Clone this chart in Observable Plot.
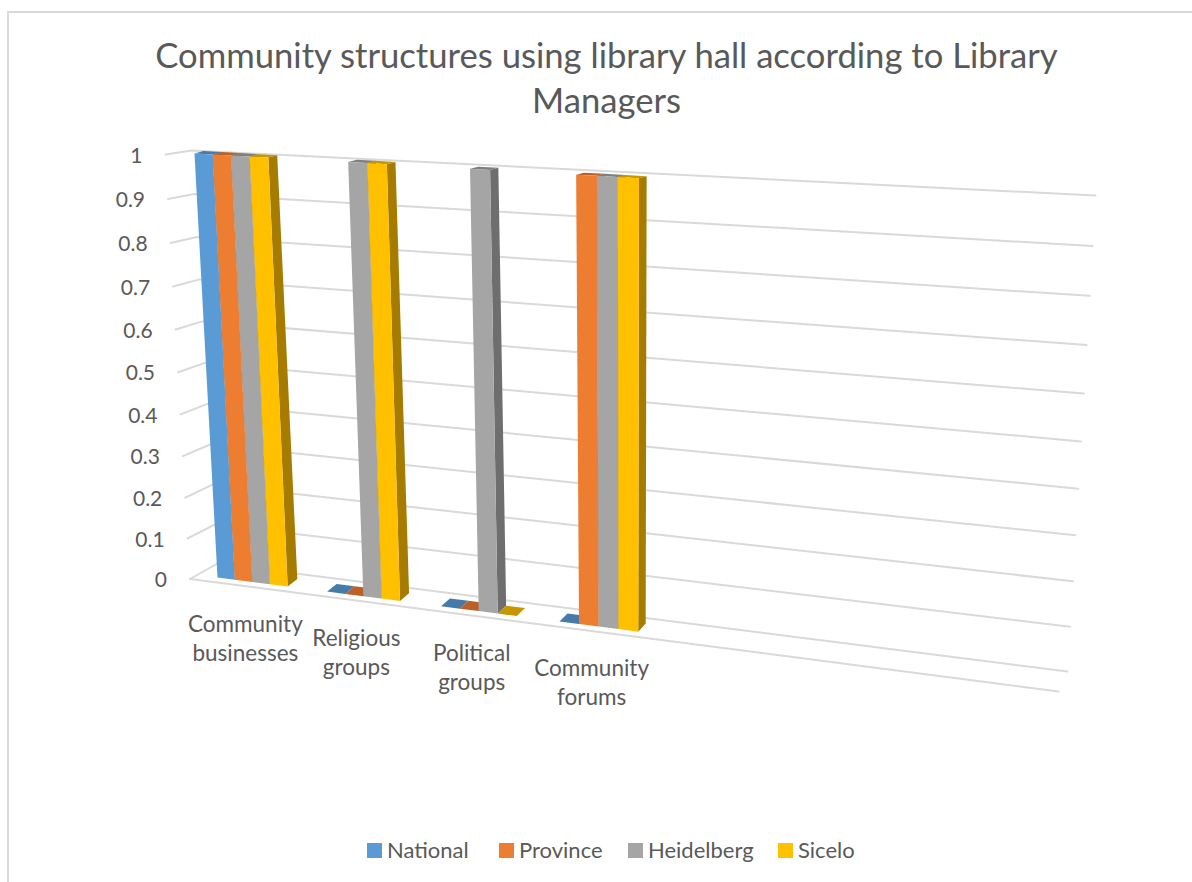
<!DOCTYPE html>
<html>
<head>
<meta charset="utf-8">
<script src="https://cdn.jsdelivr.net/npm/d3@7"></script>
<script src="https://cdn.jsdelivr.net/npm/@observablehq/plot@0.6"></script>
<style>
  html, body { margin: 0; padding: 0; background: #fff; }
  #chart { position: relative; width: 1192px; height: 882px; overflow: hidden; font-family: Lato, sans-serif; color: #595959; }
  #chart svg { position: absolute; left: 0; top: 0; }
  #frame { position: absolute; left: 7px; top: 11px; right: -4px; bottom: -4px; border: 2px solid #d9d9d9; }
  #title { position: absolute; left: 0; width: 1213px; top: 32px; text-align: center; font-size: 34.65px; line-height: 45px; }
  #legend { position: absolute; top: 836px; left: 0; height: 28px; font-size: 22px; line-height: 28px; }
  #legend span { position: absolute; white-space: nowrap; }
  #legend i { position: absolute; top: 7px; width: 15px; height: 15px; }
</style>
</head>
<body>
<div id="chart">
  <div id="frame"></div>
  <div id="title">Community structures using library hall according to Library<br>Managers</div>
  <div id="legend"></div>
</div>
<script>
// Chart values
const categories = [["Community", "businesses"], ["Religious", "groups"], ["Political", "groups"], ["Community", "forums"]];
const seriesNames = ["National", "Province", "Heidelberg", "Sicelo"];
const national = [1, 0, 0, 0];
const province = [1, 0, 0, 1];
const heidelberg = [1, 1, 1, 1];
const sicelo = [1, 1, 0, 1];
const valueTicks = [0, 0.1, 0.2, 0.3, 0.4, 0.5, 0.6, 0.7, 0.8, 0.9, 1];

// Face colours per series
const frontColors = ["#5b9bd5", "#ed7d31", "#a5a5a5", "#ffc000"];
const sideColors = ["#3f7ab0", "#b85a1f", "#6e6e6e", "#a67c00"];
const topColors = ["#467aa8", "#bd6026", "#7f7f7f", "#c89700"];

const width = 1192, height = 882;

// Perspective map of the unit square onto a quadrilateral
function quad(p00, p10, p11, p01) {
  const [x0, y0] = p00, [x1, y1] = p10, [x2, y2] = p11, [x3, y3] = p01;
  const dx1 = x1 - x2, dx2 = x3 - x2, sx = x0 - x1 + x2 - x3;
  const dy1 = y1 - y2, dy2 = y3 - y2, sy = y0 - y1 + y2 - y3;
  const det = dx1 * dy2 - dx2 * dy1;
  const g = (sx * dy2 - dx2 * sy) / det, h = (dx1 * sy - sx * dy1) / det;
  const a = x1 - x0 + g * x1, b = x3 - x0 + h * x3, c = x0;
  const d = y1 - y0 + g * y1, e = y3 - y0 + h * y3, f = y0;
  return (s, t) => {
    const w = g * s + h * t + 1;
    return [(a * s + b * t + c) / w, (d * s + e * t + f) / w];
  };
}

// The back wall and the front floor edge
const wall = quad([217, 563], [1067, 671], [1095, 195], [191, 150]);
const floorFront = [[189.5, 578.5], [1058, 691]];

// Front edge of the left wall, foreshortened towards the floor
function wallEdge(v) {
  const k = -0.05, r = 1 - v, s = r / (1 + k - k * r);
  return [165 + s * 24.5, 154 + s * 424.5];
}

// Front and rear planes of the bars, in category units (first to fourth category)
const barFront = quad([217, 577], [559, 621], [555, 173], [194, 153]);
const barBack = quad([227, 569.5], [567, 613], [563, 171], [203, 150.5]);
const barShare = 0.161;

const point = (plane, c, v) => plane(c / 3, v);

const gridLines = valueTicks.flatMap((v) => [
  {v, p: wallEdge(v)},
  {v, p: wall(0, v)},
  {v, p: wall(1, v)}
]);

// Each visible face of a bar is one closed polygon
const faces = [];
[national, province, heidelberg, sicelo].forEach((values, s) => {
  values.forEach((v, i) => {
    const c0 = i + s * barShare, c1 = c0 + barShare;
    const id = `${i}-${s}`;
    const add = (name, color, corners) => corners.forEach((p) => faces.push({face: `${id}-${name}`, color, p, order: i * 10 + s}));
    add("top", topColors[s], [point(barFront, c0, v), point(barFront, c1, v), point(barBack, c1, v), point(barBack, c0, v)]);
    if (v > 0) {
      add("side", sideColors[s], [point(barFront, c1, 0), point(barBack, c1, 0), point(barBack, c1, v), point(barFront, c1, v)]);
      add("front", frontColors[s], [point(barFront, c0, 0), point(barFront, c1, 0), point(barFront, c1, v), point(barFront, c0, v)]);
    }
  });
});
faces.sort((a, b) => a.order - b.order);

const categoryLabels = categories.map((lines, i) => {
  const p = point(barFront, i + 2 * barShare, 0);
  return {text: lines.join("\n"), x: p[0], y: p[1]};
});

const plot = Plot.plot({
  width, height,
  margin: 0,
  x: {domain: [0, width], range: [0, width], axis: null},
  y: {domain: [0, height], range: [0, height], axis: null},
  color: {type: "identity"},
  marks: [
    Plot.line(gridLines, {x: (d) => d.p[0], y: (d) => d.p[1], z: "v", stroke: "#d9d9d9", strokeWidth: 2}),
    Plot.line(floorFront, {x: (d) => d[0], y: (d) => d[1], stroke: "#d9d9d9", strokeWidth: 2}),
    Plot.line(faces, {x: (d) => d.p[0], y: (d) => d.p[1], z: "face", fill: "color", stroke: "none"}),
    Plot.text(valueTicks, {
      x: (v) => wallEdge(v)[0], y: (v) => wallEdge(v)[1],
      text: (v) => String(v), textAnchor: "end", dx: -23, dy: 1.5,
      fontSize: 21, fontFamily: "Lato, sans-serif", fill: "#595959"
    }),
    Plot.text(categoryLabels, {
      x: "x", y: "y", text: "text", dx: -7, dy: 29, lineAnchor: "top", lineHeight: 1.29,
      fontSize: 22.5, fontFamily: "Lato, sans-serif", fill: "#595959"
    })
  ]
});
document.getElementById("chart").appendChild(plot);

// Legend row under the chart
const legendX = [[367, 387], [499, 519], [628, 648], [778, 798]];
const legend = document.getElementById("legend");
seriesNames.forEach((name, i) => {
  const swatch = document.createElement("i");
  swatch.style.left = legendX[i][0] + "px";
  swatch.style.background = frontColors[i];
  const label = document.createElement("span");
  label.style.left = legendX[i][1] + "px";
  label.textContent = name;
  legend.append(swatch, label);
});
</script>
</body>
</html>
